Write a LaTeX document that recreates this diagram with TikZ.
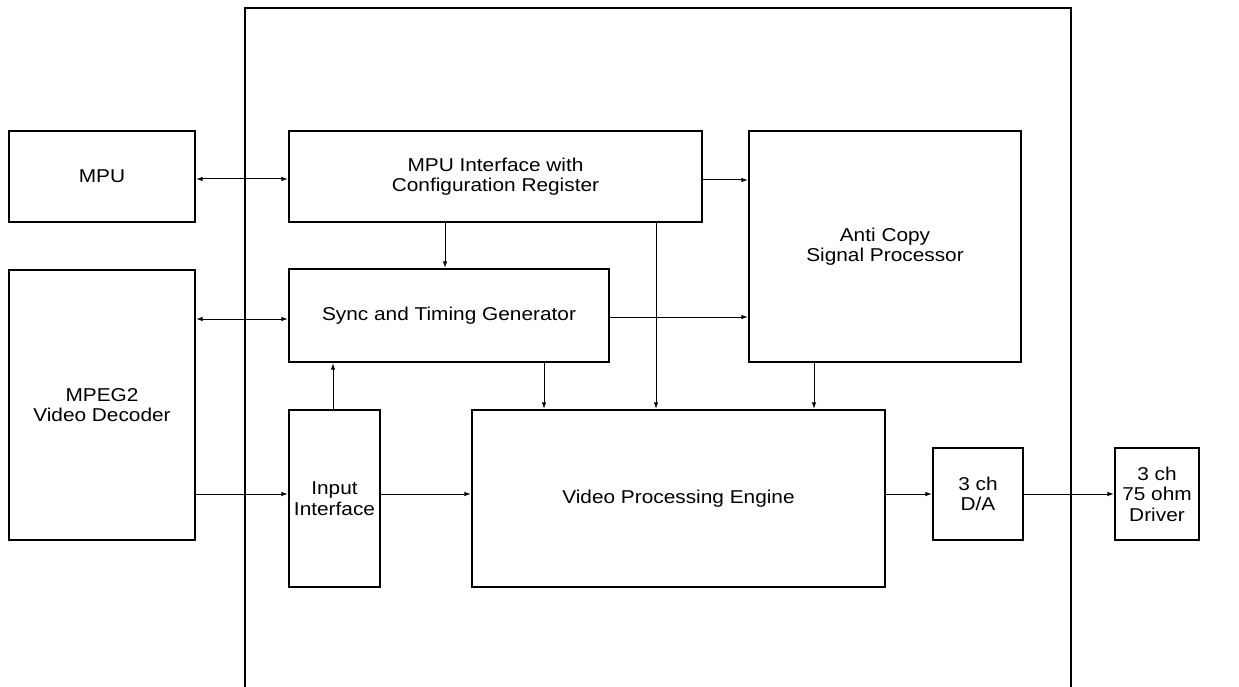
\documentclass[tikz,border=0pt]{standalone}
\usepackage{fontspec}
\setmainfont{Liberation Sans}[FakeStretch=1.12]
\usetikzlibrary{arrows.meta}
\begin{document}
\begin{tikzpicture}[x=1pt,y=-1pt,
  blk/.style={draw,line width=2.2pt,inner sep=0pt,align=center,font=\fontsize{18.6}{20.5}\selectfont},
  conn/.style={line width=1pt,-{Latex[length=6.5pt,width=4.5pt]}},
  biconn/.style={line width=1pt,{Latex[length=6.5pt,width=4.5pt]}-{Latex[length=6.5pt,width=4.5pt]}}]
\useasboundingbox (0,0) rectangle (1239,687);
% outer chip boundary
\coordinate (cbl) at (245,690);
\coordinate (ctl) at (245,8);
\coordinate (ctr) at (1071,8);
\coordinate (cbr) at (1071,690);
\draw[line width=2.2pt] (cbl) -- (ctl) -- (ctr) -- (cbr);
% blocks
\node[blk,minimum width=186pt,minimum height=91pt] (mpu) at (102,176.5) {MPU};
\node[blk,minimum width=186pt,minimum height=270pt] (mpeg) at (102,405) {MPEG2\\Video Decoder};
\node[blk,minimum width=413pt,minimum height=91pt] (mpui) at (495.5,176.5) {MPU Interface with\\Configuration Register};
\node[blk,minimum width=272pt,minimum height=231pt] (acp) at (885,246.5) {Anti Copy\\Signal Processor};
\node[blk,minimum width=320pt,minimum height=93pt] (sync) at (449,315.5) {Sync and Timing Generator};
\node[blk,minimum width=91pt,minimum height=177pt] (inp) at (334.5,498.5) {Input\\Interface};
\node[blk,minimum width=413pt,minimum height=177pt] (vpe) at (678.5,498.5) {Video Processing Engine};
\node[blk,minimum width=90pt,minimum height=92pt] (da) at (978,494) {3 ch\\D/A};
\node[blk,minimum width=84pt,minimum height=92pt] (drv) at (1157,494) {3 ch\\75 ohm\\Driver};
% connectors
\draw[biconn] (mpu.east |- 0,179) -- (mpui.west |- 0,179);
\draw[biconn] (mpeg.east |- 0,319) -- (sync.west |- 0,319);
\draw[conn] (mpeg.east |- 0,494) -- (inp.west |- 0,494);
\draw[conn] (mpui.east |- 0,180) -- (acp.west |- 0,180);
\draw[conn] (mpui.south -| 445,0) -- (sync.north -| 445,0);
\draw[conn] (mpui.south -| 656,0) -- (vpe.north -| 656,0);
\draw[conn] (sync.east |- 0,317) -- (acp.west |- 0,317);
\draw[conn] (sync.south -| 544,0) -- (vpe.north -| 544,0);
\draw[conn] (acp.south -| 814,0) -- (vpe.north -| 814,0);
\draw[conn] (inp.north -| 333,0) -- (sync.south -| 333,0);
\draw[conn] (inp.east |- 0,494) -- (vpe.west |- 0,494);
\draw[conn] (vpe.east |- 0,494) -- (da.west |- 0,494);
\draw[conn] (da.east |- 0,494) -- (drv.west |- 0,494);
\end{tikzpicture}
\end{document}
